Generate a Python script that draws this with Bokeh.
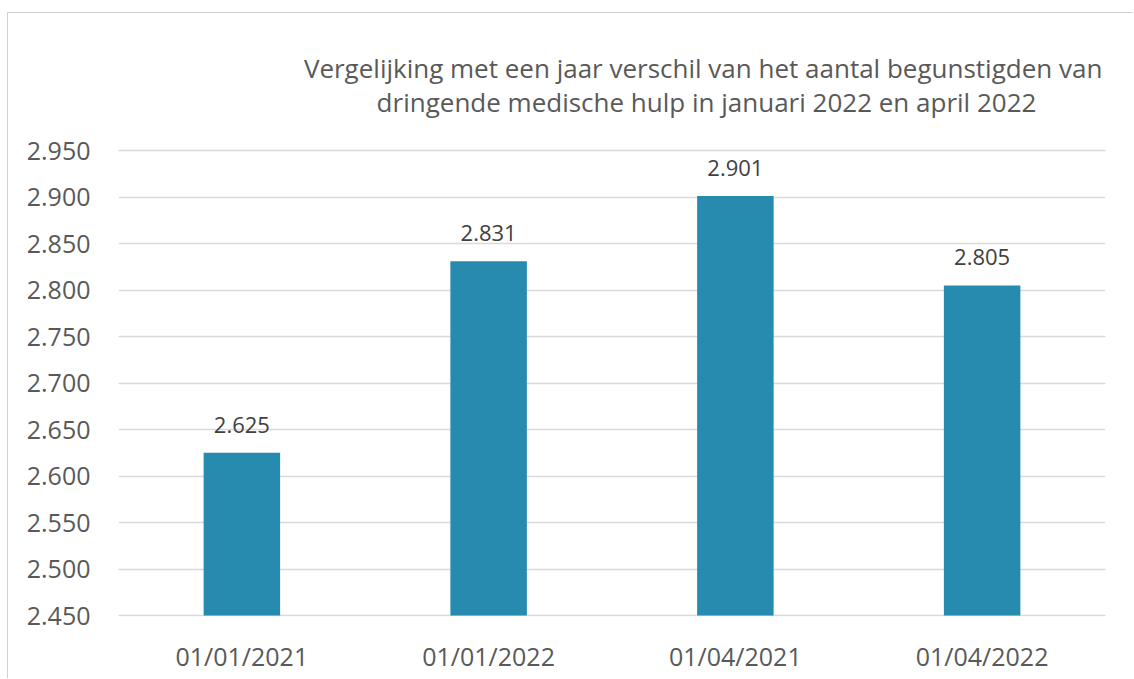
from bokeh.plotting import figure
from bokeh.models import ColumnDataSource, FixedTicker, CustomJSTickFormatter, Label
from bokeh.core.properties import value
from bokeh.embed import file_html
from bokeh.resources import INLINE

categories = ["01/01/2021", "01/01/2022", "01/04/2021", "01/04/2022"]
counts = [2625, 2831, 2901, 2805]
y_ticks = [2450, 2500, 2550, 2600, 2650, 2700, 2750, 2800, 2850, 2900, 2950]
title_lines = ["Vergelijking met een  jaar verschil van het aantal begunstigden van",
               "dringende medische hulp in januari 2022 en april 2022"]

def fmt(v):
    return f"{v // 1000}.{v % 1000:03d}"

source = ColumnDataSource(dict(cat=categories, val=counts, lab=[fmt(v) for v in counts]))

FONT = "Open Sans"
p = figure(x_range=categories, y_range=(2449, 3095.2), width=1126, height=666,
           output_backend="svg", toolbar_location=None,
           min_border_left=110, min_border_right=29, min_border_top=2, min_border_bottom=63)
p.outline_line_color = None
p.background_fill_color = "white"
p.border_fill_color = "white"

p.vbar(x="cat", top="val", bottom=2450, width=0.31, source=source,
       fill_color="#278AAF", line_color=None)

p.text(x="cat", y="val", text="lab", source=source, text_align="center",
       text_baseline="middle", y_offset=-28, text_font=value(FONT),
       text_font_size="22px", text_color="#404040")

p.yaxis.ticker = FixedTicker(ticks=y_ticks)
p.yaxis.formatter = CustomJSTickFormatter(code="""
    const t = Math.round(tick);
    return Math.floor(t/1000) + '.' + String(t % 1000).padStart(3, '0');
""")
for ax in (p.xaxis, p.yaxis):
    ax.axis_line_color = None
    ax.major_tick_line_color = None
    ax.minor_tick_line_color = None
    ax.major_tick_out = 0
    ax.major_tick_in = 0
    ax.minor_tick_out = 0
    ax.major_label_text_font = FONT
    ax.major_label_text_font_size = "25px"
    ax.major_label_text_color = "#595959"
p.yaxis.major_label_standoff = 28
p.xaxis.major_label_standoff = 22

p.xgrid.grid_line_color = None
p.ygrid.grid_line_color = "#D9D9D9"
p.ygrid.grid_line_width = 1.5

for i, line in enumerate(title_lines):
    p.add_layout(Label(x=2.383, y=3039 - 36.5 * i, text=line, text_align="center",
                       text_baseline="middle", text_font=FONT, text_font_size="26px",
                       text_color="#595959"))

p.styles = {"margin-left": "7px", "margin-top": "12px",
            "border-top": "1px solid #D0D0D0", "border-left": "1px solid #D0D0D0"}

open("out.html", "w").write(file_html(p, INLINE))
